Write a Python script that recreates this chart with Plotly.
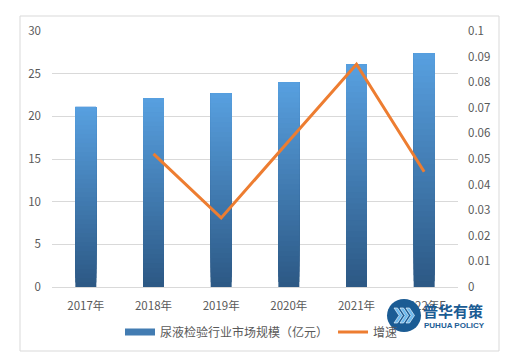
import plotly.graph_objects as go
import numpy as np

categories = ["2017年", "2018年", "2019年", "2020年", "2021年", "2022年E"]
market_size = [21.1, 22.15, 22.7, 24.0, 26.1, 27.4]
growth = [None, 0.052, 0.027, 0.057, 0.087, 0.045]
bar_name = "尿液检验行业市场规模（亿元）"
line_name = "增速"

FONT = "Noto Sans CJK SC, Noto Sans, sans-serif"
W, H = 516, 364
L, R, T, B = 52, 58, 31, 77
PW, PH = W - L - R, H - T - B

def px(x):
    return (x - L) / PW

def py(y):
    return (H - B - y) / PH

fig = go.Figure()

# gradient bars: each slice spans from its base to the bar top; later slices cover the upper part
N = 40
bottom = np.array([44, 88, 132])
top = np.array([88, 160, 224])
vals = np.array(market_size)
for k in range(N):
    c = bottom + (top - bottom) * (k + 0.5) / N
    col = "rgb(%d,%d,%d)" % tuple(c.round().astype(int))
    fig.add_trace(go.Bar(
        x=categories, y=vals * (N - k) / N, base=vals * k / N,
        marker=dict(color=col, line=dict(width=0)),
        width=0.31, showlegend=False, hoverinfo="skip", yaxis="y"))

# legend entry for bars (wide swatch)
fig.add_trace(go.Scatter(x=[None], y=[None], name=bar_name, mode="lines",
                         line=dict(color="rgb(66,124,178)", width=7),
                         showlegend=True))

fig.add_trace(go.Scatter(x=categories, y=growth, name=line_name, yaxis="y2",
                         mode="lines", line=dict(color="#ED7D31", width=3),
                         connectgaps=False))

tf = dict(size=11.5, color="#595959")
fig.update_layout(
    template="none",
    width=W, height=H, margin=dict(l=L, r=R, t=T, b=B, autoexpand=False),
    paper_bgcolor="white", plot_bgcolor="white",
    barmode="overlay",
    font=dict(family=FONT, size=12, color="#595959"),
    xaxis=dict(type="category", showgrid=False, showline=True, automargin=False,
               linecolor="#d9d9d9", linewidth=1, ticks="", ticklabelstandoff=8,
               tickfont=tf),
    yaxis=dict(range=[0, 30], dtick=5, showgrid=True, gridcolor="#d9d9d9",
               gridwidth=1, zeroline=False, ticks="", showline=False,
               automargin=False, ticklabelstandoff=10, tickfont=tf),
    yaxis2=dict(range=[0, 0.1], dtick=0.01, overlaying="y", side="right",
                showgrid=False, zeroline=False, ticks="", showline=False,
                automargin=False, ticklabelstandoff=9,
                tickformat="~g", tickfont=tf),
    legend=dict(orientation="h", x=px(120), xanchor="left", y=py(332),
                yanchor="middle", font=dict(size=12, color="#595959"),
                itemwidth=30, traceorder="normal", bgcolor="rgba(0,0,0,0)"),
    showlegend=True,
)

# outer chart border
fig.add_shape(type="rect", xref="paper", yref="paper",
              x0=px(20), x1=px(499), y0=py(351), y1=py(16),
              line=dict(color="#d9d9d9", width=1), fillcolor="rgba(0,0,0,0)",
              layer="below")

# watermark logo
fig.add_shape(type="circle", xref="paper", yref="paper",
              x0=px(387), x1=px(421), y0=py(332), y1=py(299),
              fillcolor="#1B5C94", line=dict(width=0))
for dx in (0, 6, 12):
    x0 = 394 + dx
    path = "M %f %f L %f %f L %f %f L %f %f L %f %f L %f %f Z" % (
        px(x0), py(308), px(x0 + 3.5), py(308), px(x0 + 8.5), py(315.5),
        px(x0 + 3.5), py(323), px(x0), py(323), px(x0 + 5), py(315.5))
    fig.add_shape(type="path", xref="paper", yref="paper", path=path,
                  fillcolor="#6CB8EC", line=dict(color="white", width=0.6))
fig.add_annotation(xref="paper", yref="paper", x=px(421), y=py(310),
                   xanchor="left", yanchor="middle", showarrow=False,
                   text="<b>普华有策</b>",
                   font=dict(family=FONT, size=15, color="#1B5C94"))
fig.add_annotation(xref="paper", yref="paper", x=px(422), y=py(325),
                   xanchor="left", yanchor="middle", showarrow=False,
                   text="<b>PUHUA POLICY</b>",
                   font=dict(family="Liberation Sans, Arial", size=8, color="#1B5C94"))

fig.write_html("out.html", config={"displayModeBar": False},
               post_script="document.body.style.margin='0';")
